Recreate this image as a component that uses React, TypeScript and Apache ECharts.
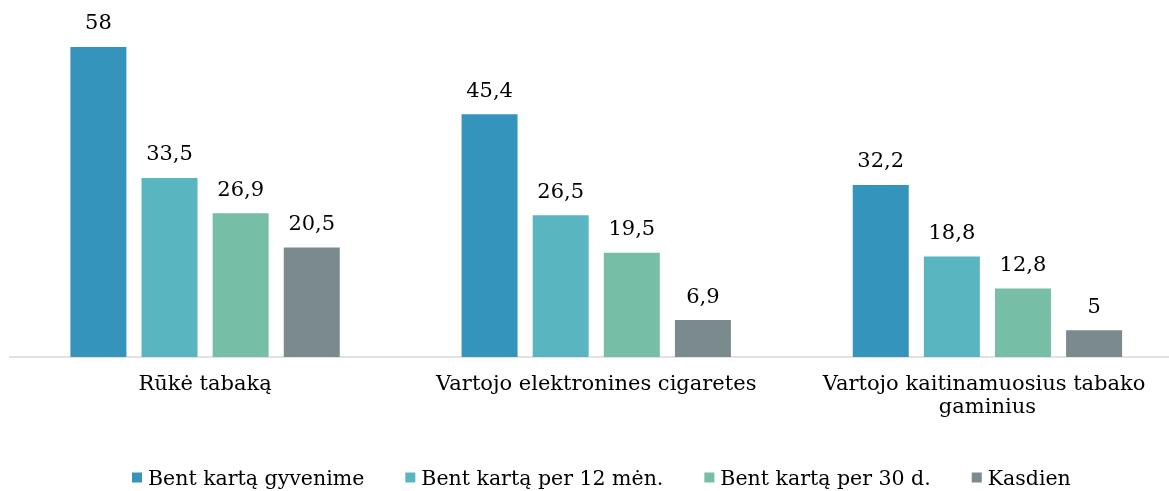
import React, { useEffect, useRef } from "react";
import * as echarts from "echarts";

const categories = [
  "Rūkė tabaką",
  "Vartojo elektronines cigaretes",
  "Vartojo kaitinamuosius tabako gaminius",
];
const seriesNames = [
  "Bent kartą gyvenime",
  "Bent kartą per 12 mėn.",
  "Bent kartą per 30 d.",
  "Kasdien",
];
const lifetime = [58, 45.4, 32.2];
const last12m = [33.5, 26.5, 18.8];
const last30d = [26.9, 19.5, 12.8];
const daily = [20.5, 6.9, 5];
const colors = ["#3594bb", "#59b6c0", "#76bfa6", "#7b8a8c"];

const FONT = "'DejaVu Serif', Georgia, serif";
const FS = 21;

export default function App() {
  const ref = useRef<HTMLDivElement>(null);
  useEffect(() => {
    if (!ref.current) return;
    const chart = echarts.init(ref.current, null, { renderer: "svg" });
    const values = [lifetime, last12m, last30d, daily];
    chart.setOption({
      animation: false,
      textStyle: { fontFamily: FONT },
      grid: { left: 9.5, top: 36.3, right: 0, height: 320.7, containLabel: false },
      legend: {
        top: 467,
        left: 132,
        padding: 0,
        itemWidth: 10,
        itemHeight: 10,
        itemGap: 41,
        icon: "rect",
        textStyle: { fontFamily: FONT, fontSize: 20.5, color: "#000", padding: [0, 0, 0, 1] },
        data: seriesNames,
      },
      xAxis: {
        type: "category",
        data: categories,
        axisLine: { show: true, lineStyle: { color: "#d9d9d9", width: 1.5 } },
        axisTick: { show: false },
        axisLabel: {
          interval: 0,
          margin: 14,
          width: 370,
          overflow: "break",
          lineHeight: 23,
          fontFamily: FONT,
          fontSize: FS,
          color: "#000",
        },
      },
      yAxis: { type: "value", min: 0, max: 60, show: false, splitLine: { show: false } },
      series: seriesNames.map((name, i) => ({
        name,
        type: "bar",
        data: values[i],
        barWidth: 56,
        barGap: "27%",
        itemStyle: { color: colors[i] },
        label: {
          show: true,
          position: "top",
          distance: 14,
          fontFamily: FONT,
          fontSize: FS,
          color: "#000",
          formatter: (p: any) => String(p.value).replace(".", ","),
        },
      })),
    });
    return () => chart.dispose();
  }, []);
  return (
    <div
      ref={ref}
      style={{ position: "fixed", left: 0, top: 0, width: 1183, height: 491 }}
    />
  );
}
